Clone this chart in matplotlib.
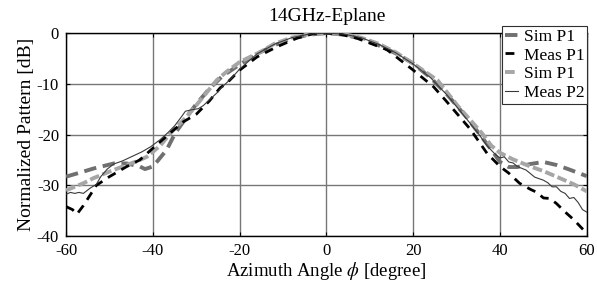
import numpy as np
import matplotlib
matplotlib.use("Agg")
import matplotlib.pyplot as plt

plt.rcParams['font.family'] = ['Liberation Serif', 'DejaVu Serif']
plt.rcParams['mathtext.fontset'] = 'stix'
plt.rcParams['axes.unicode_minus'] = False

# ---- data ----
ang_sim1 = [-60, -56, -53.7, -49, -46, -43, -41.8, -40, -39, -36.8, -34.9, -32, -30, -27, -24, -20,
            -16, -12, -8, -4, 0, 4, 8, 12, 16, 20, 24, 28, 32, 35, 38, 40, 42, 44, 47, 50, 53, 56, 60]
sim1 = [-28.3, -27.3, -26.7, -25.7, -25.7, -26.3, -26.8, -26.3, -25.3, -23.0, -19.8, -16.3, -14.0,
        -11.0, -8.5, -6.2, -4.1, -2.4, -1.1, -0.3, 0, -0.3, -1.1, -2.4, -4.0, -6.0, -8.8, -12.3,
        -16.3, -19.6, -23.0, -25.4, -26.4, -26.4, -25.8, -25.4, -26.0, -26.9, -28.2]

ang_meas1 = [-60, -58.5, -57.5, -56, -54.5, -53, -50, -46, -43, -40, -36, -33, -30, -27, -24.5, -23,
             -20, -16, -11.4, -6.8, -3, 0, 3, 7, 11, 14, 17, 20, 24.7, 27.4, 30, 33.2, 37, 40, 42,
             44.5, 47, 48.5, 50, 51.5, 53, 55.3, 57, 59, 60]
meas1 = [-34.2, -34.8, -35.7, -34.0, -32.0, -30.0, -28.3, -26.3, -25.0, -22.7, -19.7, -17.5, -16.0,
         -13.4, -10.8, -9.9, -7.3, -4.7, -2.7, -1.0, -0.1, 0, -0.2, -1.0, -2.3, -3.3, -5.3, -7.3,
         -10.6, -13.2, -15.8, -19.0, -23.7, -26.3, -27.6, -29.6, -30.8, -31.4, -32.5, -32.6,
         -33.6, -35.5, -36.8, -38.6, -39.5]

ang_sim2 = [-60, -56, -53.7, -50, -46, -43.5, -41.4, -38.3, -35.3, -32.2, -29, -25.3, -23, -20, -15.2,
            -12, -8, -4, 0, 4, 8, 12, 16, 20, 25.6, 30.2, 33, 35.7, 38, 40, 43, 47, 50, 53.8, 57, 60]
sim2 = [-31.0, -29.6, -28.6, -27.3, -26.0, -25.2, -24.4, -22.2, -19.1, -16.5, -13.2, -9.3, -7.6,
        -5.7, -3.7, -2.1, -0.9, -0.2, 0, -0.2, -0.9, -2.1, -3.8, -6.0, -9.3, -14.3, -17.0, -19.6,
        -22.2, -23.6, -24.9, -26.3, -27.2, -28.6, -29.8, -31.2]

ang_meas2 = [-60, -59, -58, -57, -56, -54.5, -53, -52, -50.5, -49, -47, -45, -42.5, -40.5, -38.3,
             -36.5, -35, -33.5, -32.5, -31, -29.5, -28.4, -27, -25, -24, -22, -20, -16, -12, -8, -4,
             0, 4, 8, 12, 16, 20, 24, 28, 32, 35, 37, 39, 40, 41, 42, 43, 44, 46, 48, 50, 51, 52,
             53, 54, 55, 56, 57, 58, 59, 60]
meas2 = [-31.8, -31.4, -31.6, -31.4, -31.6, -30.6, -29.8, -28.3, -26.8, -25.8, -25.2, -24.4, -23.4,
         -22.4, -21.0, -19.6, -18.3, -16.6, -15.4, -15.1, -14.9, -14.3, -13.2, -11.6, -10.6, -9.0,
         -7.1, -4.1, -2.2, -0.9, -0.2, 0, -0.2, -0.9, -2.2, -3.9, -6.1, -8.8, -12.4, -16.6, -19.8,
         -22.2, -24.0, -24.6, -24.4, -25.4, -25.6, -26.3, -27.0, -28.4, -29.0, -29.5, -30.3,
         -30.3, -31.2, -31.6, -32.6, -32.4, -33.4, -34.8, -35.3]

xticks = [-60, -40, -20, 0, 20, 40, 60]
yticks = [0, -10, -20, -30, -40]

fig = plt.figure(figsize=(5.97, 2.93), dpi=100)
ax = fig.add_axes([0.1106, 0.1945, 0.8724, 0.6925])

ax.plot(ang_sim1, sim1, color='#707070', lw=2.8, dashes=(3.2, 1.7), label='Sim P1', zorder=3)
ax.plot(ang_meas1, meas1, color='black', lw=2.0, dashes=(3.2, 2.4), label='Meas P1', zorder=4)
ax.plot(ang_sim2, sim2, color='#a6a6a6', lw=2.8, dashes=(2.5, 0.9), label='Sim P1', zorder=3)
ax.plot(ang_meas2, meas2, color='#3a3a3a', lw=0.8, label='Meas P2', zorder=5)

ax.set_xlim(-60, 60)
ax.set_ylim(-40, 0)
ax.set_xticks(xticks)
ax.set_yticks(yticks)
ax.grid(True, color='#777777', lw=1.0)
ax.set_axisbelow(True)
ax.tick_params(direction='in', length=3, top=True, right=True, labelsize=12, color='black')
ax.tick_params(axis='x', pad=5)
ax.tick_params(axis='y', pad=5)
for s in ax.spines.values():
    s.set_linewidth(1.0)

ax.set_title('14GHz-Eplane', fontsize=14, pad=9)
ax.set_xlabel(r'Azimuth Angle $\phi$ [degree]', fontsize=13.5, labelpad=1)
ax.set_ylabel('Normalized Pattern [dB]', fontsize=14, labelpad=1)

leg = ax.legend(loc='upper right', bbox_to_anchor=(1.0, 1.035), fontsize=12.5, handlelength=0.8,
                handletextpad=0.3, labelspacing=0.15, borderpad=0.15, borderaxespad=0.0,
                fancybox=False, framealpha=1, edgecolor='#303030')
leg.get_frame().set_linewidth(0.8)

fig.savefig('out.png', dpi=100)
